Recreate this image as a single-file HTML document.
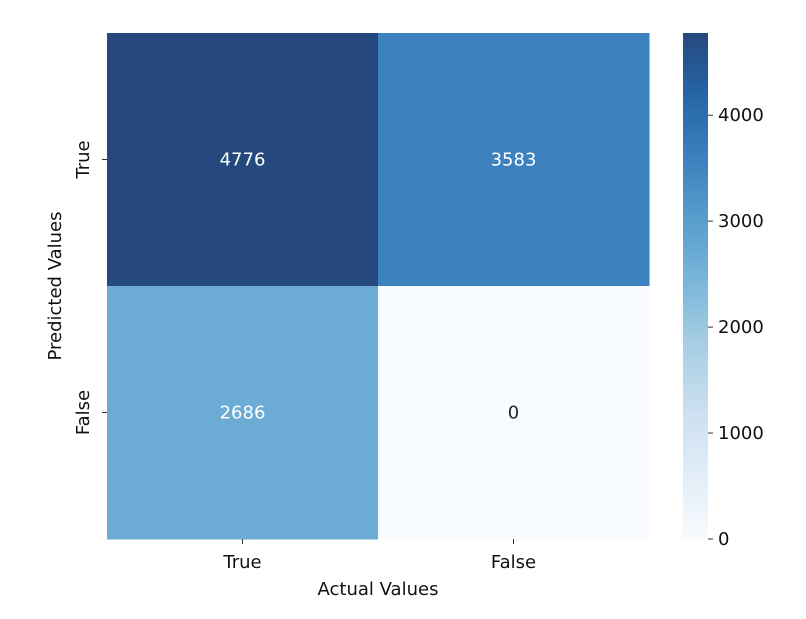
<!DOCTYPE html>
<html><head><meta charset="utf-8"><style>
body{margin:0;background:#fff}
svg text{font-family:"DejaVu Sans","Liberation Sans",sans-serif;}
</style></head><body>
<svg id="chart" width="806" height="614" xmlns="http://www.w3.org/2000/svg">
<defs><linearGradient id="cbg" x1="0" y1="1" x2="0" y2="0"></linearGradient></defs>
<g id="cells"></g>
<g id="axes"></g>
<g id="cbar"></g>
</svg>
<script>
const xLabels=["True","False"];
const yLabels=["True","False"];
const values=[[4776,3583],[2686,0]];
const cbTicks=[0,1000,2000,3000,4000];
const vmin=0, vmax=4776;
const NS="http://www.w3.org/2000/svg";
const blues=["#f7fbff","#deebf7","#c6dbef","#9ecae1","#6baed6","#4292c6","#2171b5","#08519c","#08306b"];
function hex(h){return [1,3,5].map(i=>parseInt(h.substr(i,2),16));}
function color(v){let t=Math.max(0,Math.min(1,(v-vmin)/(vmax-vmin)))*(blues.length-1);let i=Math.min(Math.floor(t),blues.length-2),f=t-i;
let a=hex(blues[i]),b=hex(blues[i+1]);let c=a.map((x,k)=>x+(b[k]-x)*f);let al=0.88;c=c.map(x=>Math.round(x*al+255*(1-al)));return `rgb(${c.join(',')})`;}
function lum(v){return (v-vmin)/(vmax-vmin)>0.4;}
function mk(tag,attrs,parent,txt){const e=document.createElementNS(NS,tag);for(const k in attrs)e.setAttribute(k,attrs[k]);if(txt!==undefined)e.textContent=txt;parent.appendChild(e);return e;}
const L=107,T=33,W=542,H=506;
const FS='18';
const cw=W/xLabels.length,ch=H/yLabels.length;
const xs=i=>L+i*cw, ys=j=>T+j*ch;
const cells=document.getElementById('cells'),axes=document.getElementById('axes'),cb=document.getElementById('cbar');
values.forEach((row,j)=>row.forEach((v,i)=>{
 const r=mk('rect',{x:xs(i),y:ys(j),width:cw+0.5,height:ch+0.5,fill:color(v)},cells);
 
 
 const t=mk('text',{x:xs(i)+cw/2,y:ys(j)+ch/2+6,'text-anchor':'middle','font-size':FS,fill:lum(v)?'#fff':'#262626'},cells,String(v));
 
 
}));
xLabels.forEach((l,i)=>{const cx=xs(i)+cw/2;
 mk('line',{x1:cx,x2:cx,y1:T+H,y2:T+H+5,stroke:'#333','stroke-width':1},axes);
 const t=mk('text',{x:cx,y:T+H+29,'text-anchor':'middle','font-size':FS,fill:'#111'},axes,l);
 
 });
yLabels.forEach((l,j)=>{const cy=ys(j)+ch/2;
 mk('line',{x1:L-5,x2:L,y1:cy,y2:cy,stroke:'#333','stroke-width':1},axes);
 const t=mk('text',{x:0,y:0,transform:`translate(${L-18},${cy}) rotate(-90)`,'text-anchor':'middle','font-size':FS,fill:'#111'},axes,l);
 
 });
const xt=mk('text',{x:L+W/2-271+271,y:595,'text-anchor':'middle','font-size':FS,fill:'#111'},axes,'Actual Values');


const yt=mk('text',{x:0,y:0,transform:`translate(61,${T+H/2}) rotate(-90)`,'text-anchor':'middle','font-size':FS,fill:'#111'},axes,'Predicted Values');


const CX=683,CW=25;
const grad=document.getElementById('cbg');
for(let k=0;k<=20;k++){mk('stop',{offset:k/20,'stop-color':color(vmin+(vmax-vmin)*k/20)},grad);}
const cr=mk('rect',{x:CX,y:T,width:CW,height:H,fill:'url(#cbg)'},cb);


const cy=v=>T+H-(v-vmin)/(vmax-vmin)*H;
cbTicks.forEach(v=>{const y=cy(v);
 mk('line',{x1:CX+CW,x2:CX+CW+5,y1:y,y2:y,stroke:'#333','stroke-width':1},cb);
 const t=mk('text',{x:CX+CW+10,y:y+6,'font-size':FS,fill:'#111'},cb,String(v));
 
 });
</script>
</body></html>
